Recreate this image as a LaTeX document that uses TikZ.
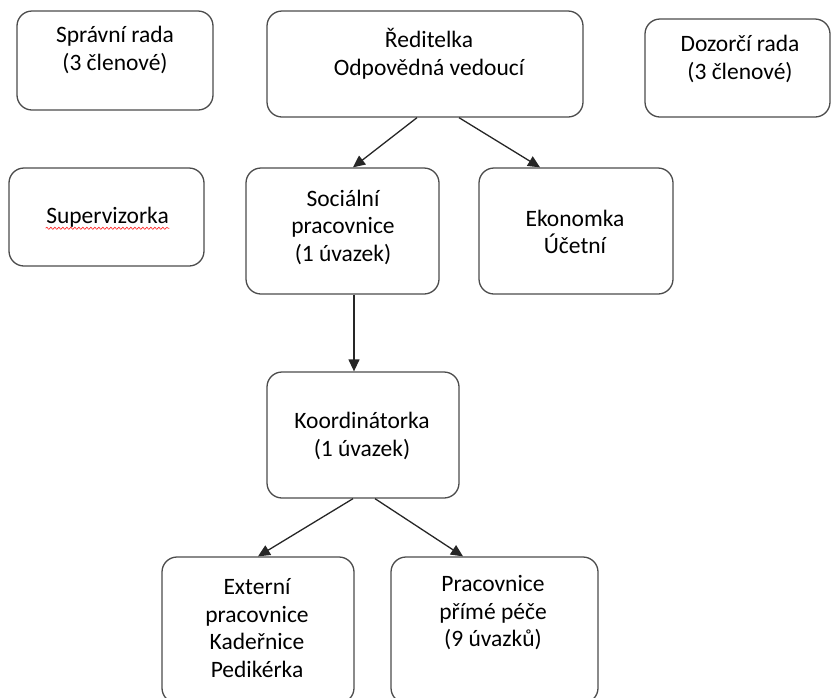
\documentclass[tikz,border=0pt]{standalone}
\usepackage{fontspec}
\setmainfont{Carlito}
\usetikzlibrary{arrows.meta,decorations.pathmorphing}
\tikzset{every picture/.style={line width=1.3pt}}
\tikzset{
  box/.style 2 args={draw=black!70, rounded corners=15pt, minimum width=#1,
                minimum height=#2, inner sep=0pt},
  txt/.style={align=center, inner sep=0pt, text=black,
                font=\fontsize{23.5}{27.5}\selectfont},
  link/.style={-{Triangle[length=12pt,width=11pt]}, draw=black!85},
}
\def\wave{red!85}

\begin{document}
\begin{tikzpicture}[x=1pt,y=-1pt]
  \useasboundingbox (0,0) rectangle (832,697);
  % boxes | top row
  \node[box={196pt}{99pt}]  (sprava)    at (115,60.5) {};
  \node[box={316pt}{106pt}] (reditelka) at (425,64)   {};
  \node[box={185pt}{98pt}]  (dozor)     at (737.5,68) {};
  % boxes | second row
  \node[box={195pt}{98pt}]  (superv)    at (106.5,217) {};
  \node[box={193pt}{126pt}] (social)    at (342.5,231) {};
  \node[box={194pt}{126pt}] (ekonom)    at (576,231)   {};
  % boxes | lower part
  \node[box={192pt}{126pt}] (koord)     at (363,435)   {};
  \node[box={192pt}{146pt}] (extern)    at (258,630)   {};
  \node[box={207pt}{146pt}] (prace)     at (494.5,630) {};
  % texts
  \node[txt] (spravaT)    at (115,50)  {Správní rada\\(3 členové)};
  \node[txt] (reditelkaT) at (429,54)  {Ředitelka\\Odpovědná vedoucí};
  \node[txt] (dozorT)     at (740,59)  {Dozorčí rada\\(3 členové)};
  \node[txt] (supervT)    at (107.5,217) {Supervizorka};
  \node[txt] (socialT)    at (343,227) {Sociální\\pracovnice\\(1 úvazek)};
  \node[txt] (ekonomT)    at (575,232) {Ekonomka\\Účetní};
  \node[txt] (koordT)     at (362,436) {Koordinátorka\\(1 úvazek)};
  \node[txt] (externT)    at (257,628) {Externí\\pracovnice\\Kadeřnice\\Pedikérka};
  \node[txt] (praceT)     at (493,613) {Pracovnice\\přímé péče\\(9 úvazků)};
  % spell check wave
  \draw[\wave, line width=.6pt, decorate,
        decoration={snake, amplitude=1.1pt, segment length=4pt}]
    ([yshift=-5pt]supervT.base west) -- ([yshift=-5pt]supervT.base east);
  % connect boxes
  \draw[link] ([xshift=-8pt]reditelka.south) -- ([xshift=10.5pt]social.north);
  \draw[link] ([xshift=34pt]reditelka.south) -- ([xshift=-36pt]ekonom.north);
  \draw[link] ([xshift=11.5pt]social.south) -- ([xshift=-9pt]koord.north);
  \draw[link] ([xshift=-10pt]koord.south) -- (extern.north);
  \draw[link] ([xshift=12pt]koord.south) -- ([xshift=-31.5pt]prace.north);
\end{tikzpicture}
\end{document}
